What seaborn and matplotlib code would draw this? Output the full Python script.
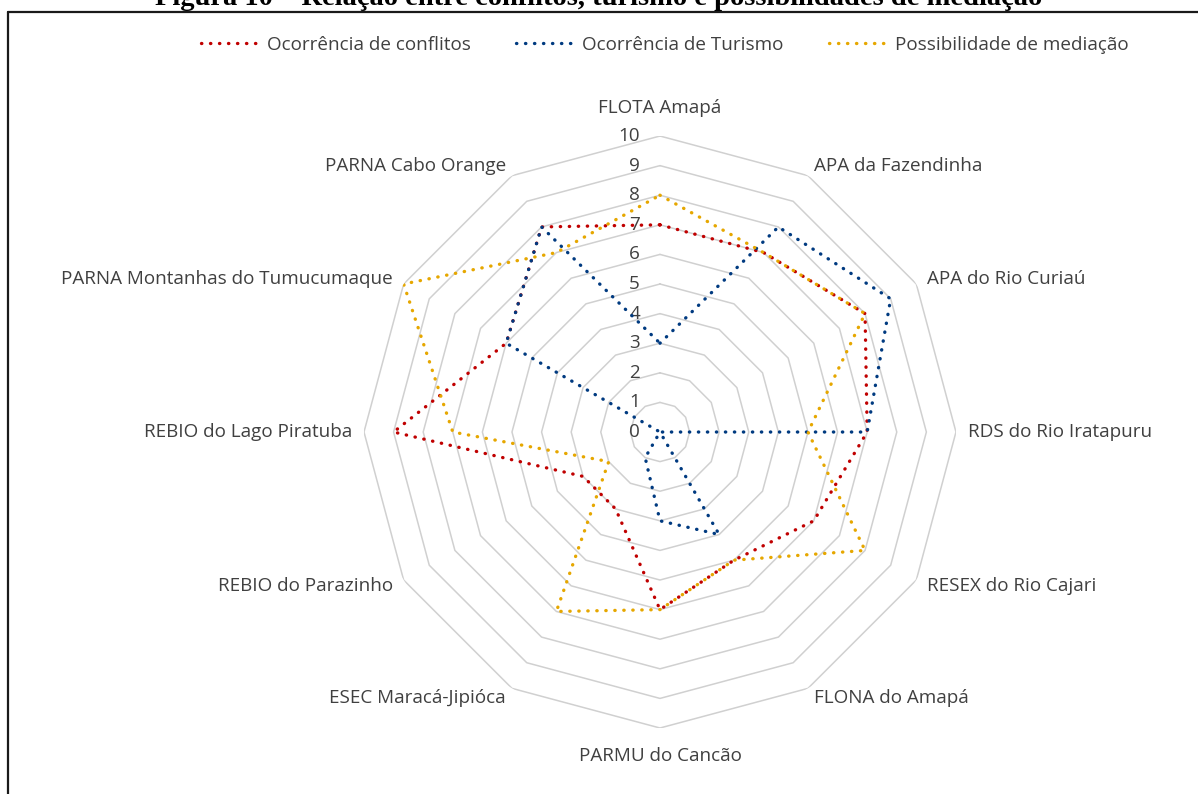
"""Radar chart: conflitos, turismo e possibilidades de mediacao nas UCs do Amapa."""

import matplotlib.pyplot as plt
import numpy as np
import pandas as pd
import seaborn as sns
from matplotlib.lines import Line2D

sns.set_theme(style="white")
plt.rcParams["font.family"] = ["Open Sans", "DejaVu Sans"]

CATEGORIES = [
    "FLOTA Amapá",
    "APA da Fazendinha",
    "APA do Rio Curiaú",
    "RDS do Rio Iratapuru",
    "RESEX do Rio Cajari",
    "FLONA do Amapá",
    "PARMU do Cancão",
    "ESEC Maracá-Jipióca",
    "REBIO do Parazinho",
    "REBIO do Lago Piratuba",
    "PARNA Montanhas do Tumucumaque",
    "PARNA Cabo Orange",
]
CONFLITOS = [7, 7, 8, 7, 6, 5, 6, 3, 3, 9, 6, 8]
TURISMO = [3, 8, 9, 7, 0, 4, 3, 1, 0, 0, 6, 8]
MEDIACAO = [8, 7, 8, 5, 8, 5, 6, 7, 2, 7, 10, 7]
SERIES = ["Ocorrência de conflitos", "Ocorrência de Turismo", "Possibilidade de mediação"]
COLORS = ["#C00000", "#003A80", "#E6A700"]
R_TICKS = list(range(0, 11))

TITLE = "Figura 10 – Relação entre conflitos, turismo e possibilidades de mediação"
TEXT_COLOR = "#404040"
GRID_COLOR = "#D0D0D0"
DOTS = (0, (0.1, 2.6))
FONT_SIZE = 13.6


def long_frame(theta: np.ndarray) -> pd.DataFrame:
    rows = []
    closed_theta = np.append(theta, theta[0] + 2 * np.pi)
    for name, values in zip(SERIES, [CONFLITOS, TURISMO, MEDIACAO]):
        closed = list(values) + [values[0]]
        for order, (t, v) in enumerate(zip(closed_theta, closed)):
            rows.append({"serie": name, "ordem": order, "theta": t, "valor": v})
    return pd.DataFrame(rows)


def main() -> None:
    n = len(CATEGORIES)
    theta = np.linspace(0, 2 * np.pi, n, endpoint=False)

    fig = plt.figure(figsize=(11.98, 7.94), dpi=100)
    ax = fig.add_axes([0.3038, 0.0831, 0.4942, 0.7456], projection="polar")
    ax.set_theta_offset(np.pi / 2)
    ax.set_theta_direction(-1)
    ax.set_ylim(0, 10)
    ax.grid(False)
    ax.spines["polar"].set_visible(False)
    ax.set_xticks([])
    ax.set_yticks([])
    ax.set_facecolor("none")

    # polygon grid
    ring_theta = np.append(theta, theta[0])
    for r in R_TICKS[1:]:
        ax.plot(ring_theta, [r] * len(ring_theta), color=GRID_COLOR, lw=1.1, zorder=1)
    for r in R_TICKS:
        ax.annotate(str(r), xy=(0, r), xytext=(-20, 0), textcoords="offset pixels",
                    ha="right", va="center", fontsize=FONT_SIZE, color=TEXT_COLOR, zorder=2)

    df = long_frame(theta)
    sns.lineplot(data=df, x="theta", y="valor", hue="serie", hue_order=SERIES,
                 palette=COLORS, units="serie", estimator=None, sort=False,
                 lw=2.4, legend=False, ax=ax, zorder=3)
    for line in ax.get_lines()[-3:]:
        line.set_linestyle(DOTS)
        line.set_dash_capstyle("round")
    ax.set_xlabel("")
    ax.set_ylabel("")

    # category labels
    for t, name in zip(theta, CATEGORIES):
        s, c = np.sin(t), np.cos(t)
        if abs(s) < 1e-6:
            dx, dy, ha = 0, 28 * np.sign(c), "center"
        else:
            dx, dy = 12 * s, 11 * c
            ha = "left" if s > 0 else "right"
        ax.annotate(name, xy=(t, 10), xytext=(dx, dy), textcoords="offset pixels",
                    ha=ha, va="center", fontsize=FONT_SIZE, color=TEXT_COLOR,
                    annotation_clip=False)

    handles = [Line2D([], [], color=col, lw=2.4, linestyle=DOTS, dash_capstyle="round")
               for col in COLORS]
    leg = fig.legend(handles, SERIES, loc="center", bbox_to_anchor=(0.555, 1 - 45 / 794),
                     ncol=3, frameon=False, fontsize=FONT_SIZE, handlelength=3.0,
                     handletextpad=0.5, columnspacing=2.4)
    for txt in leg.get_texts():
        txt.set_color(TEXT_COLOR)

    # frame and cut title (the reference shows only its lower part)
    fig.add_artist(Line2D([8 / 1198, 8 / 1198], [0, 1 - 12 / 794], color="#1a1a1a",
                          lw=1.6, transform=fig.transFigure))
    fig.add_artist(Line2D([8 / 1198, 1], [1 - 12 / 794, 1 - 12 / 794], color="#1a1a1a",
                          lw=1.6, transform=fig.transFigure))
    fig.text(0.5, 1 - 5 / 794, TITLE, ha="center", va="baseline", fontsize=20.5,
             fontweight="bold", family=["Liberation Serif", "DejaVu Serif"], color="black")

    fig.savefig("out.png", dpi=100, facecolor="white")
    plt.close(fig)


if __name__ == "__main__":
    main()
